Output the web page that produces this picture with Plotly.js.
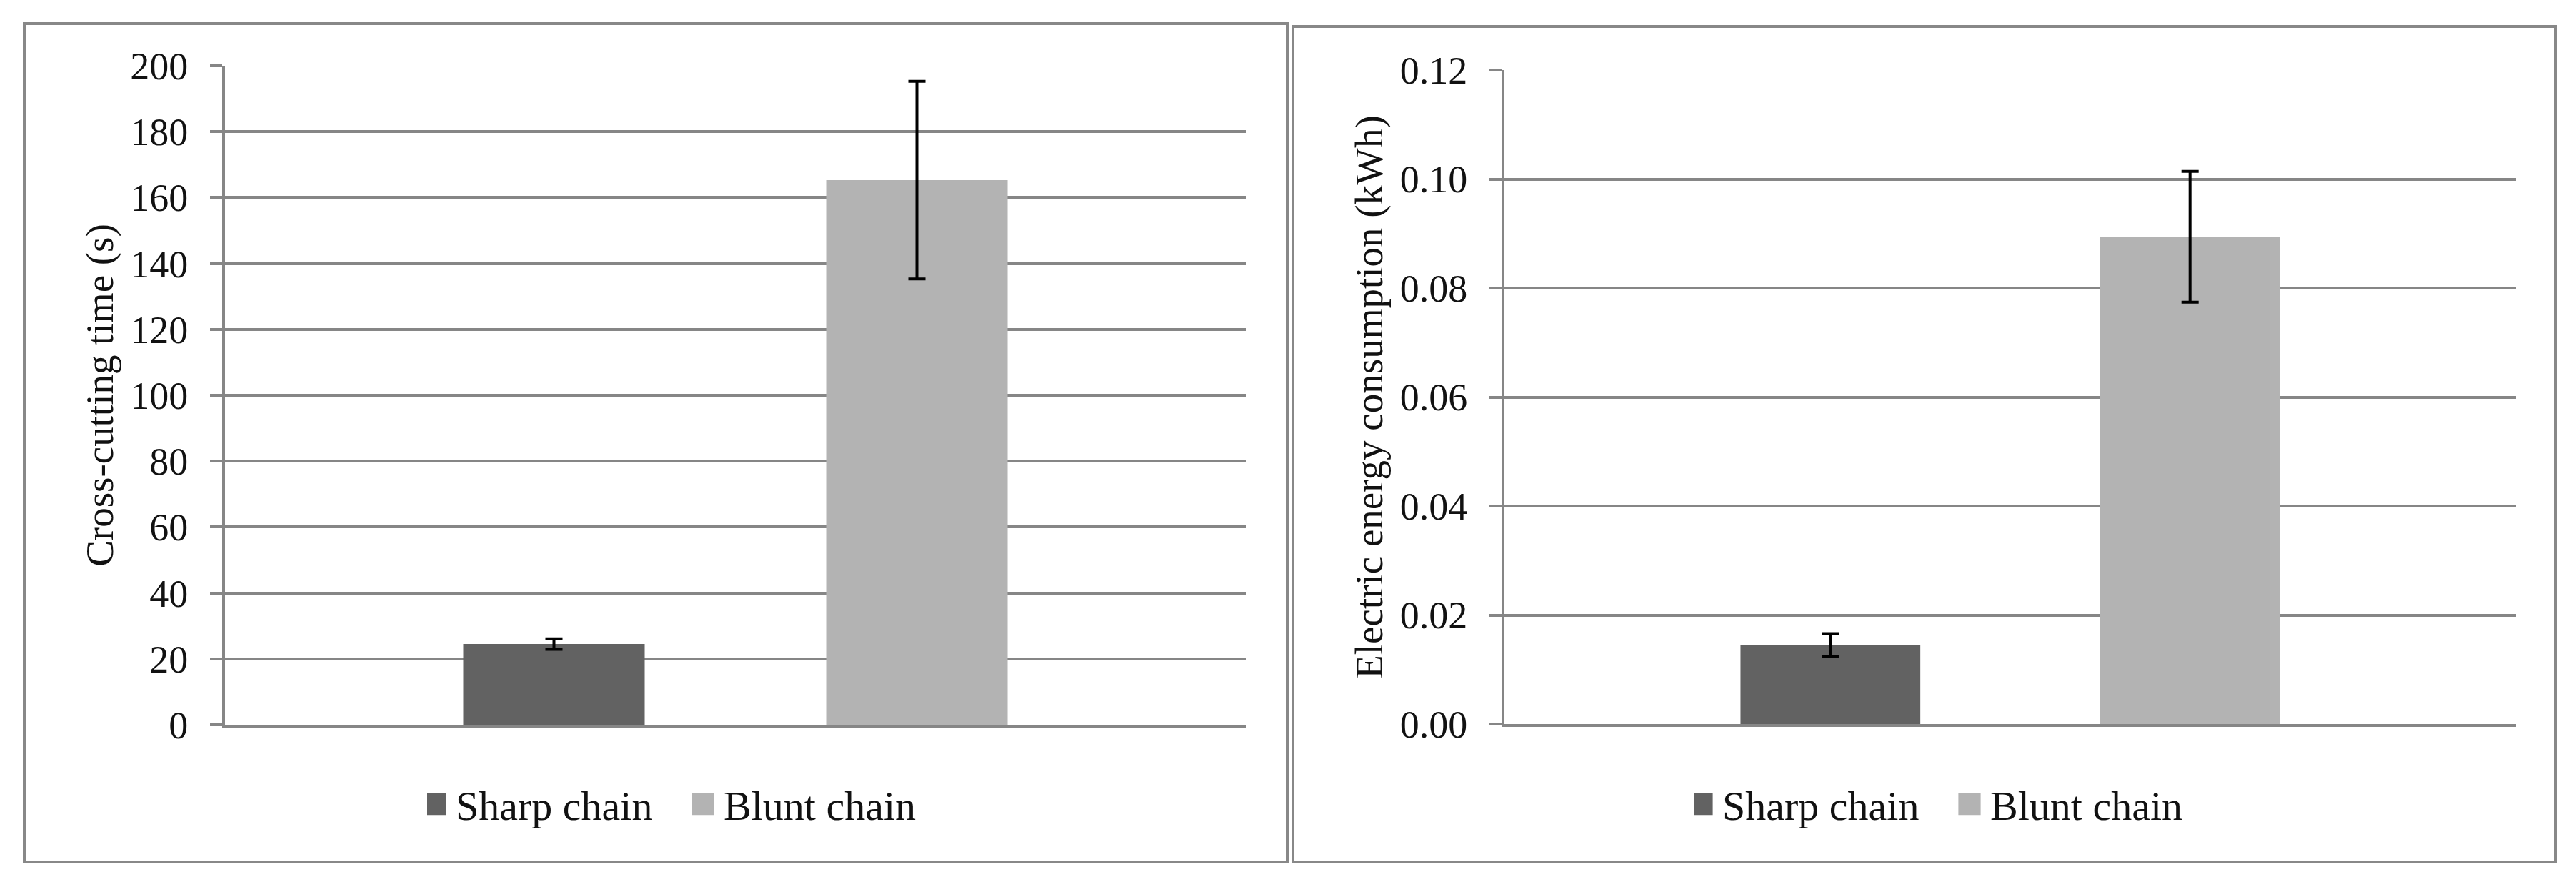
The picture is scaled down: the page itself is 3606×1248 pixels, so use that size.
<!DOCTYPE html>
<html>
<head>
<meta charset="utf-8">
<script src="https://cdn.plot.ly/plotly-3.0.1.min.js"></script>
<style>
html,body{margin:0;padding:0;background:#ffffff;}
#chart{width:3606px;height:1248px;}
</style>
</head>
<body>
<div id="chart"></div>
<script>
// ---- data ----
const groupLabel = ['Chain condition'];
const seriesNames = ['Sharp chain', 'Blunt chain'];
const cuttingTime = [24.5, 165.3];          // s
const cuttingTimeErr = [1.6, 30.0];
const energyUse = [0.0145, 0.0894];         // kWh
const energyUseErr = [0.0021, 0.0120];
const timeTicks = [0, 20, 40, 60, 80, 100, 120, 140, 160, 180, 200];
const energyTicks = [0, 0.02, 0.04, 0.06, 0.08, 0.10, 0.12];

// ---- styles ----
const seriesColors = ['#626262', '#b3b3b3'];
const gridCol = '#868686';
const W = 3606, H = 1248;
const FONT = 'Liberation Serif, Times New Roman, serif';

const traces = [];
seriesNames.forEach((nm, i) => {
  traces.push({
    type: 'bar', name: nm, x: groupLabel, y: [cuttingTime[i]],
    marker: {color: seriesColors[i], line: {width: 0}},
    error_y: {type: 'data', array: [cuttingTimeErr[i]], visible: true, color: '#000000', thickness: 4, width: 12},
    xaxis: 'x', yaxis: 'y', legend: 'legend', hoverinfo: 'skip'
  });
});
seriesNames.forEach((nm, i) => {
  traces.push({
    type: 'bar', name: nm, x: groupLabel, y: [energyUse[i]],
    marker: {color: seriesColors[i], line: {width: 0}},
    error_y: {type: 'data', array: [energyUseErr[i]], visible: true, color: '#000000', thickness: 4, width: 12},
    xaxis: 'x2', yaxis: 'y2', legend: 'legend2', hoverinfo: 'skip'
  });
});

function xAxis(d0, d1, anchor) {
  return {
    domain: [d0 / W, d1 / W], anchor: anchor, range: [-0.5, 0.5],
    showticklabels: false, ticks: '', showgrid: false, zeroline: false,
    showline: true, linecolor: gridCol, linewidth: 4, fixedrange: true
  };
}
function yAxis(top, bottom, anchor, range, ticks, fmt, title) {
  return {
    domain: [(H - bottom) / H, (H - top) / H], anchor: anchor, range: range,
    tickmode: 'array', tickvals: ticks, tickformat: fmt,
    showgrid: true, gridcolor: gridCol, gridwidth: 4, zeroline: false,
    showline: true, linecolor: gridCol, linewidth: 4,
    ticks: 'outside', ticklen: 17, tickwidth: 4, tickcolor: gridCol,
    ticklabelstandoff: 20,
    tickfont: {family: FONT, size: 54, color: '#111111'},
    title: {text: title, font: {family: FONT, size: 55, color: '#111111'}, standoff: 7},
    fixedrange: true
  };
}

function legendAt(xc) {
  return {x: xc / W, y: (H - 1125) / H, xanchor: 'center', yanchor: 'middle', orientation: 'h',
          entrywidth: 330, entrywidthmode: 'pixels',
          font: {family: FONT, size: 58, color: '#111111'}, bgcolor: 'rgba(0,0,0,0)'};
}

const layout = {
  width: W, height: H,
  margin: {l: 0, r: 0, t: 0, b: 0, pad: 0},
  paper_bgcolor: '#ffffff', plot_bgcolor: '#ffffff',
  font: {family: FONT, size: 54, color: '#111111'},
  barmode: 'group', bargap: 0.289, bargroupgap: 0.5,
  xaxis: xAxis(315, 1744, 'y'),
  yaxis: yAxis(92, 1014, 'x', [0, 200], timeTicks, 'd', 'Cross-cutting time (s)'),
  xaxis2: xAxis(2106, 3522, 'y2'),
  yaxis2: yAxis(98, 1013, 'x2', [0, 0.12], energyTicks, '.2f', 'Electric energy consumption (kWh)'),
  legend: legendAt(973),
  legend2: legendAt(2746),
  shapes: [
    {type: 'rect', xref: 'paper', yref: 'paper', x0: 34 / W, x1: 1802 / W, y0: (H - 1206) / H, y1: (H - 33) / H,
     line: {color: '#888888', width: 4}, fillcolor: 'rgba(0,0,0,0)', layer: 'below'},
    {type: 'rect', xref: 'paper', yref: 'paper', x0: 1810 / W, x1: 3577 / W, y0: (H - 1206) / H, y1: (H - 37) / H,
     line: {color: '#888888', width: 4}, fillcolor: 'rgba(0,0,0,0)', layer: 'below'}
  ],
  showlegend: true
};

Plotly.newPlot('chart', traces, layout, {displayModeBar: false, responsive: false}).then(function () {
  document.querySelectorAll('.legendpoints path').forEach(function (p) {
    const t = p.getAttribute('transform') || '';
    p.setAttribute('transform', 'translate(-9,0) ' + t + ' scale(2.6)');
  });
});
</script>
</body>
</html>
